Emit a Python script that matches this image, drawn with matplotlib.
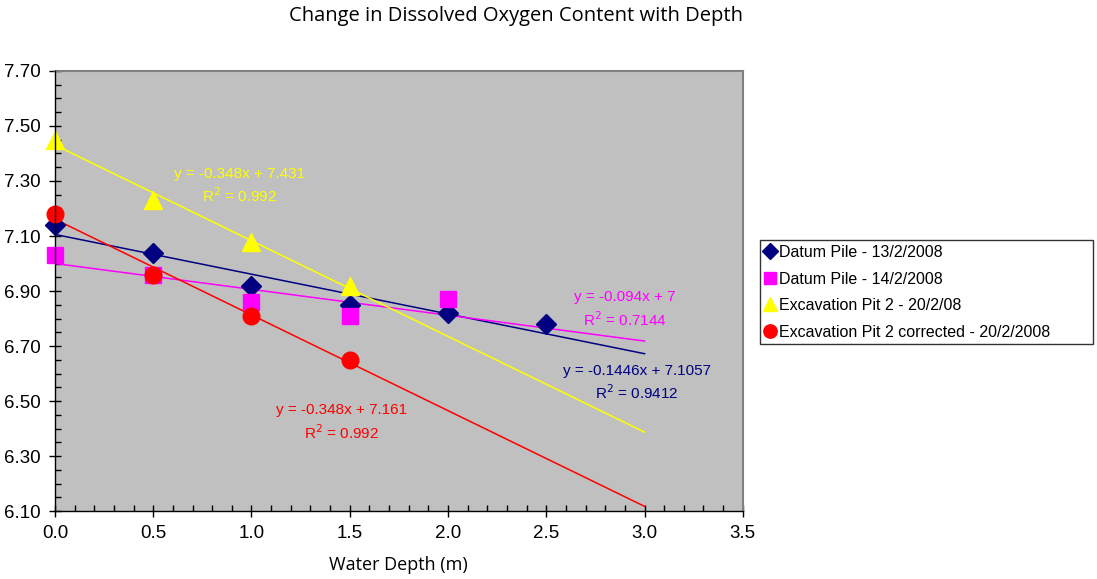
import numpy as np
import matplotlib
matplotlib.use("Agg")
import matplotlib.pyplot as plt
from matplotlib.ticker import MultipleLocator, FixedLocator, FormatStrFormatter

plt.rcParams["font.family"] = ["Liberation Sans", "DejaVu Sans"]

# Data
depth_13 = [0.0, 0.5, 1.0, 1.5, 2.0, 2.5]
do_13 = [7.14, 7.04, 6.92, 6.85, 6.82, 6.78]

depth_14 = [0.0, 0.5, 1.0, 1.5, 2.0]
do_14 = [7.03, 6.96, 6.86, 6.81, 6.87]

depth_pit = [0.0, 0.5, 1.0, 1.5]
do_pit = [7.45, 7.23, 7.08, 6.92]

depth_pit_c = [0.0, 0.5, 1.0, 1.5]
do_pit_c = [7.18, 6.96, 6.81, 6.65]

labels = ["Datum Pile - 13/2/2008", "Datum Pile - 14/2/2008",
          "Excavation Pit 2 - 20/2/08", "Excavation Pit 2 corrected - 20/2/2008"]
eq_texts = [("y = -0.1446x + 7.1057", "R$^2$ = 0.9412"),
            ("y = -0.094x + 7", "R$^2$ = 0.7144"),
            ("y = -0.348x + 7.431", "R$^2$ = 0.992"),
            ("y = -0.348x + 7.161", "R$^2$ = 0.992")]
y_ticks = [6.10, 6.30, 6.50, 6.70, 6.90, 7.10, 7.30, 7.50, 7.70]

series = [(depth_13, do_13), (depth_14, do_14), (depth_pit, do_pit), (depth_pit_c, do_pit_c)]
colors = ["#000080", "#FF00FF", "#FFFF00", "#FF0000"]
markers = ["D", "s", "^", "o"]
msizes = [10, 11, 13, 12]
eq_pos = [(2.96, 6.609, 6.529), (2.90, 6.878, 6.795), (0.94, 7.325, 7.245), (1.46, 6.467, 6.384)]

fig = plt.figure(figsize=(10.97, 5.79), dpi=100)
ax = fig.add_axes([0.0501, 0.1174, 0.627, 0.760])
ax.set_facecolor("#C0C0C0")

# trendlines first, then markers
xs = np.array([0.0, 3.0])
for (x, y), c in zip(series, colors):
    k, b = np.polyfit(x, y, 1)
    ax.plot(xs, k * xs + b, color=c, lw=1.1, zorder=2)

for (x, y), c, m, s, lab in zip(series, colors, markers, msizes, labels):
    ax.plot(x, y, linestyle="none", marker=m, color=c, markersize=s,
            markeredgecolor=c, label=lab, zorder=3, clip_on=False)

for (t1, t2), (px, py1, py2), c in zip(eq_texts, eq_pos, colors):
    ax.text(px, py1, t1, color=c, fontsize=11, ha="center", va="center")
    ax.text(px, py2, t2, color=c, fontsize=11, ha="center", va="center")

ax.set_xlim(0, 3.5)
ax.set_ylim(6.10, 7.70)
ax.xaxis.set_major_locator(MultipleLocator(0.5))
ax.xaxis.set_minor_locator(MultipleLocator(0.1))
ax.yaxis.set_major_locator(FixedLocator(y_ticks))
ax.yaxis.set_minor_locator(MultipleLocator(0.05))
ax.xaxis.set_major_formatter(FormatStrFormatter("%.1f"))
ax.yaxis.set_major_formatter(FormatStrFormatter("%.2f"))
ax.tick_params(which="major", direction="inout", length=8, width=1, labelsize=13.5, pad=6)
ax.tick_params(which="minor", direction="in", length=4, width=1)

for side in ["top", "right"]:
    ax.spines[side].set_color("#808080")
    ax.spines[side].set_linewidth(1.5)
for side in ["left", "bottom"]:
    ax.spines[side].set_color("black")
    ax.spines[side].set_linewidth(1)
    ax.spines[side].set_zorder(4)

ax.set_xlabel("Water Depth (m)", fontsize=13, family=["Open Sans", "DejaVu Sans"], labelpad=10)
fig.suptitle("Change in Dissolved Oxygen Content with Depth", fontsize=14.5,
             family=["Open Sans", "DejaVu Sans"], x=0.47, y=0.99)

leg = fig.legend(loc="upper left", bbox_to_anchor=(0.693, 0.585, 0.303, 0.0), mode="expand",
                 fontsize=11.5, frameon=True, fancybox=False, edgecolor="black",
                 handlelength=0.6, handletextpad=0.3, borderpad=0.3, labelspacing=0.72,
                 markerscale=0.8, borderaxespad=0)
leg.get_frame().set_linewidth(1)

fig.savefig("out.png", dpi=100)
